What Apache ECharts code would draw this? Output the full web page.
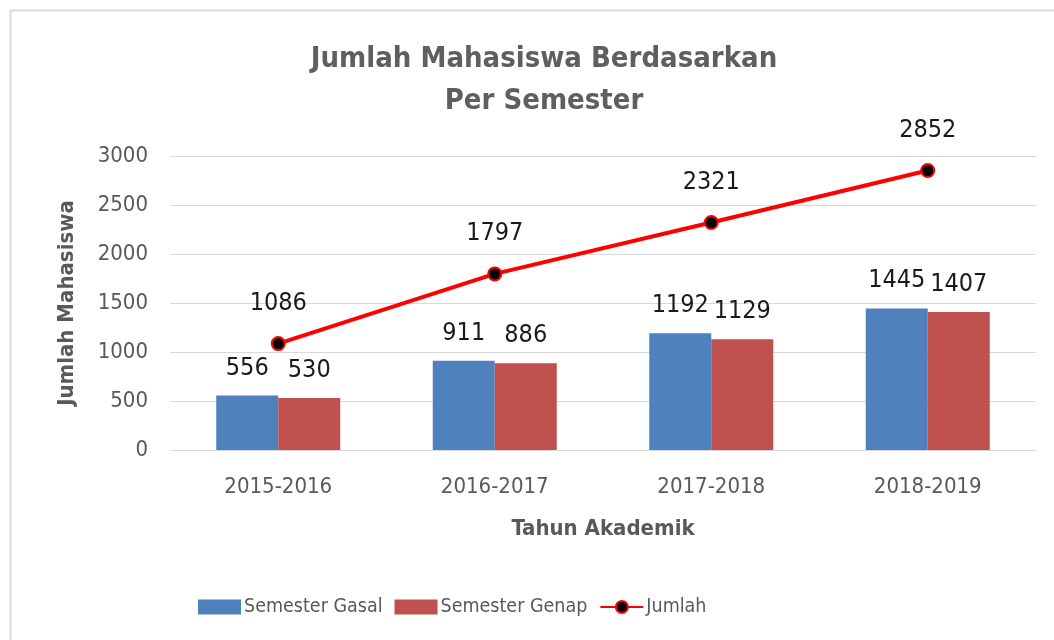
<!DOCTYPE html>
<html>
<head>
<meta charset="utf-8">
<script src="https://cdn.jsdelivr.net/npm/echarts@6/dist/echarts.min.js"></script>
<style>
  html, body { margin: 0; padding: 0; background: #fff; }
  #main { width: 1054px; height: 640px; }
</style>
</head>
<body>
<div id="main"></div>
<script>
var years = ['2015-2016', '2016-2017', '2017-2018', '2018-2019'];
var gasal = [556, 911, 1192, 1445];
var genap = [530, 886, 1129, 1407];
var jumlah = [1086, 1797, 2321, 2852];

var font = '"Liberation Sans Narrow", "DejaVu Sans Condensed", sans-serif';
var grey = '#595959';

var chart = echarts.init(document.getElementById('main'));

var option = {
  backgroundColor: '#fff',
  textStyle: { fontFamily: font },
  title: {
    text: 'Jumlah Mahasiswa Berdasarkan\nPer Semester',
    left: 539,
    textAlign: 'center',
    top: 33,
    textStyle: { fontSize: 29, fontWeight: 'bold', color: '#5f5f5f', lineHeight: 42, fontFamily: font }
  },
  //bingkai luar
  graphic: [{
    type: 'rect',
    shape: { x: 10.5, y: 10.5, width: 1100, height: 700 },
    style: { fill: 'none', stroke: '#d9d9d9', lineWidth: 2 },
    silent: true
  }],
  legend: {
    bottom: 18,
    left: 193,
    itemGap: 12,
    itemWidth: 43,
    itemHeight: 15,
    textStyle: { fontSize: 19.5, color: grey, fontFamily: font, padding: [0, 0, 0, -2] },
    data: [
      { name: 'Semester Gasal', icon: 'rect' },
      { name: 'Semester Genap', icon: 'rect' },
      { name: 'Jumlah' }
    ]
  },
  grid: { left: 170, right: 18, top: 156, bottom: 190 },
  xAxis: {
    type: 'category',
    data: years,
    name: 'Tahun Akademik',
    nameLocation: 'middle',
    nameGap: 68,
    nameTextStyle: { fontSize: 22, fontWeight: 'bold', color: grey, fontFamily: font },
    axisLine: { lineStyle: { color: '#d9d9d9' } },
    axisTick: { show: false },
    axisLabel: { fontSize: 22, color: grey, margin: 26, fontFamily: font }
  },
  yAxis: {
    type: 'value',
    min: 0,
    max: 3000,
    interval: 500,
    name: 'Jumlah Mahasiswa',
    nameLocation: 'middle',
    nameGap: 92,
    nameTextStyle: { fontSize: 22, fontWeight: 'bold', color: grey, fontFamily: font },
    axisLine: { show: false },
    axisTick: { show: false },
    axisLabel: { fontSize: 22, color: grey, margin: 22, fontFamily: font, formatter: function (v) { return String(v); } },
    splitLine: { lineStyle: { color: '#d9d9d9', width: 1 } }
  },
  series: [
    {
      name: 'Semester Gasal',
      type: 'bar',
      data: gasal,
      barWidth: 62,
      barGap: '0%',
      itemStyle: { color: '#4f81bd' },
      label: { show: true, position: 'top', distance: 15, fontSize: 25, color: '#1a1a1a', fontFamily: font }
    },
    {
      name: 'Semester Genap',
      type: 'bar',
      data: genap,
      barWidth: 62,
      barGap: '0%',
      itemStyle: { color: '#c0504d' },
      label: { show: true, position: 'top', distance: 15, fontSize: 25, color: '#1a1a1a', fontFamily: font }
    },
    {
      name: 'Jumlah',
      type: 'line',
      data: jumlah,
      symbol: 'circle',
      symbolSize: 13,
      lineStyle: { color: '#ff0000', width: 4 },
      itemStyle: { color: '#000', borderColor: '#ff0000', borderWidth: 2 },
      label: { show: true, position: 'top', distance: 20, fontSize: 25, color: '#1a1a1a', fontFamily: font },
      z: 5
    }
  ]
};

chart.setOption(option);
</script>
</body>
</html>
